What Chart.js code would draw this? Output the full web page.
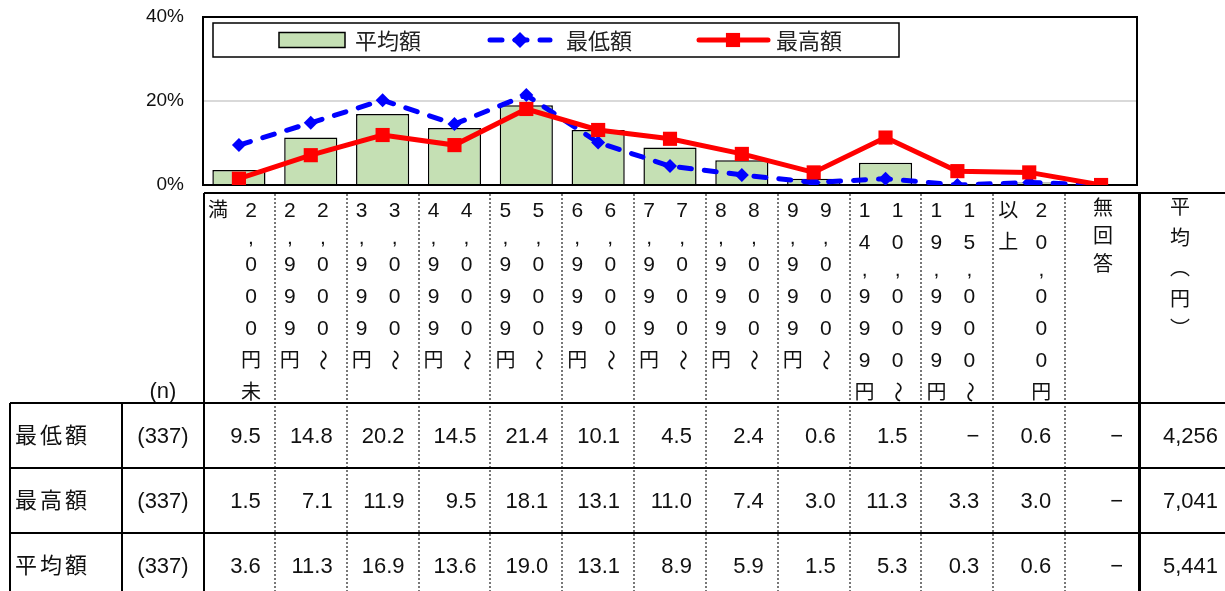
<!DOCTYPE html>
<html lang="ja">
<head>
<meta charset="utf-8">
<title>平均額・最低額・最高額の分布</title>
<script src="https://cdn.jsdelivr.net/npm/chart.js@4.4.1/dist/chart.umd.min.js"></script>
<style>
  html, body { margin: 0; padding: 0; background: #fff; }
  body {
    width: 1225px; height: 591px; overflow: hidden; position: relative;
    font-family: "Liberation Sans", "Noto Sans CJK JP", sans-serif; color: #111;
  }
  #chart { position: absolute; left: 0; top: 0; }
  #grid { position: absolute; left: 0; top: 0; width: 1225px; height: 591px; }
  .ln { position: absolute; background: #000; }
  .dot { position: absolute; width: 0; border-left: 2px dotted #777; }
  .ch { position: absolute; width: 30px; text-align: center; font-size: 21px; white-space: nowrap; }
  .ch.kanji { font-size: 20px; }
  .tilde { display: inline-block; transform: rotate(90deg); }
  .cell { position: absolute; font-size: 22px; line-height: 64px; height: 64px; white-space: nowrap; }
  .cell.jp { letter-spacing: 3px; }
</style>
</head>
<body>
<canvas id="chart" width="1225" height="200"></canvas>
<div id="grid"></div>
<script>
// price bands (horizontal axis)
const categories = [
  '2,000円未満', '2,000～2,999円', '3,000～3,999円', '4,000～4,999円',
  '5,000～5,999円', '6,000～6,999円', '7,000～7,999円', '8,000～8,999円',
  '9,000～9,999円', '10,000～14,999円', '15,000～19,999円', '20,000円以上', '無回答'
];
// share of respondents in %, null = "−"
const minShare = [9.5, 14.8, 20.2, 14.5, 21.4, 10.1, 4.5, 2.4, 0.6, 1.5, null, 0.6, null];
const maxShare = [1.5, 7.1, 11.9, 9.5, 18.1, 13.1, 11.0, 7.4, 3.0, 11.3, 3.3, 3.0, null];
const avgShare = [3.6, 11.3, 16.9, 13.6, 19.0, 13.1, 8.9, 5.9, 1.5, 5.3, 0.3, 0.6, null];
const sampleSize = 337;
const meanYen = { min: 4256, max: 7041, avg: 5441 };
const yTicks = [0, 20, 40];

const toPlot = v => (v == null ? 0 : v);
const fmtShare = v => (v == null ? '\u2212' : v.toFixed(1));

// frame around the plot area, drawn under the series
const plotFrame = {
  id: 'plotFrame',
  beforeDatasetsDraw(chart) {
    const { ctx, chartArea: a } = chart;
    ctx.save();
    ctx.strokeStyle = '#000';
    ctx.lineWidth = 2;
    ctx.strokeRect(a.left, a.top, a.right - a.left, a.bottom - a.top);
    ctx.restore();
  }
};

// boxed legend inside the plot: bar swatch, dashed line + diamond, solid line + square
const boxLegend = {
  id: 'boxLegend',
  afterDatasetsDraw(chart) {
    const { ctx, chartArea: a } = chart;
    const [bar, low, high] = chart.data.datasets;
    const x0 = a.left + 10, y0 = a.top + 6, w = 686, h = 34, cy = y0 + h / 2;
    ctx.save();
    ctx.fillStyle = '#fff';
    ctx.fillRect(x0, y0, w, h);
    ctx.strokeStyle = '#000';
    ctx.lineWidth = 1.5;
    ctx.strokeRect(x0, y0, w, h);

    ctx.font = '22px "Noto Sans CJK JP", sans-serif';
    ctx.textBaseline = 'middle';

    // 平均額
    ctx.fillStyle = bar.backgroundColor;
    ctx.fillRect(x0 + 66, cy - 7.5, 66, 15);
    ctx.strokeStyle = '#000';
    ctx.lineWidth = 1.5;
    ctx.strokeRect(x0 + 66, cy - 7.5, 66, 15);
    ctx.fillStyle = '#222';
    ctx.fillText(bar.label, x0 + 142, cy + 1);

    // 最低額
    ctx.strokeStyle = low.borderColor;
    ctx.lineWidth = low.borderWidth;
    ctx.lineCap = 'round';
    ctx.setLineDash(low.borderDash);
    ctx.beginPath();
    ctx.moveTo(x0 + 277, cy);
    ctx.lineTo(x0 + 337, cy);
    ctx.stroke();
    ctx.setLineDash([]);
    ctx.fillStyle = low.backgroundColor;
    Chart.helpers.drawPoint(ctx, { pointStyle: 'rectRot', radius: 8, rotation: 0, borderWidth: 0 }, x0 + 307, cy);
    ctx.fillStyle = '#222';
    ctx.fillText(low.label, x0 + 353, cy + 1);

    // 最高額
    ctx.strokeStyle = high.borderColor;
    ctx.lineWidth = high.borderWidth;
    ctx.lineCap = 'round';
    ctx.beginPath();
    ctx.moveTo(x0 + 486, cy);
    ctx.lineTo(x0 + 555, cy);
    ctx.stroke();
    ctx.fillStyle = high.backgroundColor;
    Chart.helpers.drawPoint(ctx, { pointStyle: 'rect', radius: 10, rotation: 0, borderWidth: 0 }, x0 + 520, cy);
    ctx.fillStyle = '#222';
    ctx.fillText(high.label, x0 + 563, cy + 1);
    ctx.restore();
  }
};

const chart = new Chart(document.getElementById('chart'), {
  type: 'bar',
  data: {
    labels: categories,
    datasets: [
      {
        type: 'bar', label: '平均額', data: avgShare.map(toPlot),
        backgroundColor: '#c5e0b4', borderColor: '#000', borderWidth: 1.5,
        barPercentage: 0.74, categoryPercentage: 1, order: 2
      },
      {
        type: 'line', label: '最低額', data: minShare.map(toPlot),
        borderColor: '#0000ff', backgroundColor: '#0000ff', borderWidth: 5,
        borderDash: [12, 13], borderCapStyle: 'round', tension: 0,
        pointStyle: 'rectRot', pointRadius: 7, pointBorderWidth: 0, order: 1
      },
      {
        type: 'line', label: '最高額', data: maxShare.map(toPlot),
        borderColor: '#ff0000', backgroundColor: '#ff0000', borderWidth: 5,
        borderCapStyle: 'round', tension: 0,
        pointStyle: 'rect', pointRadius: 10, pointBorderWidth: 0, order: 0
      }
    ]
  },
  options: {
    responsive: false,
    animation: false,
    layout: { padding: { top: 17, right: 88, bottom: 15, left: 0 } },
    plugins: { legend: { display: false }, tooltip: { enabled: false } },
    scales: {
      x: { display: false, offset: true, ticks: { display: false }, grid: { display: false } },
      y: {
        min: 0, max: 40,
        afterBuildTicks: s => { s.ticks = yTicks.map(v => ({ value: v })); },
        afterFit: s => { s.width = 203; s.paddingTop = 0; s.paddingBottom = 0; },
        ticks: {
          callback: v => v + '%',
          font: { family: '"Liberation Sans", sans-serif', size: 19 },
          color: '#111',
          padding: 19
        },
        grid: {
          drawTicks: false,
          lineWidth: 2,
          color: c => (c.tick && c.tick.value === 20 ? '#d9d9d9' : 'rgba(0,0,0,0)')
        },
        border: { display: false }
      }
    }
  },
  plugins: [plotFrame, boxLegend]
});

// ---- category header and data table under the plot ----
const grid = document.getElementById('grid');
const xs = chart.scales.x;
const colW = (chart.chartArea.right - chart.chartArea.left) / categories.length;
const colLeft = i => xs.getPixelForValue(i) - colW / 2;

function el(cls, style, html) {
  const d = document.createElement('div');
  d.className = cls;
  Object.assign(d.style, style);
  if (html != null) d.innerHTML = html;
  grid.appendChild(d);
  return d;
}
const hLine = (x1, x2, y, t = 2) => el('ln', { left: x1 + 'px', top: (y - t / 2) + 'px', width: (x2 - x1) + 'px', height: t + 'px' });
const vLine = (x, y1, y2, t = 2) => el('ln', { left: (x - t / 2) + 'px', top: y1 + 'px', width: t + 'px', height: (y2 - y1) + 'px' });
const dLine = (x, y1, y2) => el('dot', { left: (x - 1) + 'px', top: y1 + 'px', height: (y2 - y1) + 'px' });

const headTop = 193, headBottom = 403, rowH = 65, tableBottom = 600;
const tableLeft = 10, nameRight = 122, plotL = 204, meanL = 1139;

// split a label into vertical columns (right column first)
function splitColumns(label) {
  const t = label.indexOf('～');
  if (t >= 0) return [label.slice(0, t + 1), label.slice(t + 1)];
  if (label.length > 7) return [label.slice(0, 7), label.slice(7)];
  return [label];
}

const vertical = { '（': '︵', '）': '︶' };
function stackText(str, cx, top, step) {
  let y = top;
  for (const c of str) {
    const h = c === ',' ? 22 : step;
    const isKanji = /[^\x00-\x7f～]/.test(c);
    let inner = vertical[c] || c;
    if (c === '～') inner = '<span class="tilde">～</span>';
    el('ch' + (isKanji ? ' kanji' : ''), {
      left: (cx - 15) + 'px', top: y + 'px', height: h + 'px', lineHeight: h + 'px'
    }, inner);
    y += h;
  }
}

categories.forEach((label, i) => {
  const left = colLeft(i);
  const cols = splitColumns(label);
  if (cols.length === 1) {
    stackText(cols[0], left + colW / 2 + 2, headTop + 1, 28);
  } else {
    stackText(cols[0], left + 48, headTop + 1, 32);
    stackText(cols[1], left + 15, headTop + 1, 32);
  }
});
stackText('平均（円）', 1180, headTop - 1, 30.5);
el('cell', { left: nameRight + 'px', width: (plotL - nameRight) + 'px', top: (391 - 32) + 'px', textAlign: 'center' }, '(n)');

// grid lines
hLine(plotL, 1225, headTop);
vLine(plotL, headTop, tableBottom);
vLine(meanL, headTop, tableBottom, 3);
for (let i = 1; i < categories.length; i++) dLine(colLeft(i), headTop + 1, tableBottom);
for (let r = 0; r < 3; r++) hLine(tableLeft, 1225, headBottom + r * rowH);
vLine(tableLeft, headBottom, tableBottom);
vLine(nameRight, headBottom, tableBottom);

const rows = [
  { name: '最低額', shares: minShare, mean: meanYen.min },
  { name: '最高額', shares: maxShare, mean: meanYen.max },
  { name: '平均額', shares: avgShare, mean: meanYen.avg }
];
rows.forEach((row, r) => {
  const top = headBottom + r * rowH + 1;
  el('cell jp', { left: '15px', top: top + 'px' }, row.name);
  el('cell', { left: nameRight + 'px', width: (plotL - nameRight) + 'px', top: top + 'px', textAlign: 'center' }, '(' + sampleSize + ')');
  row.shares.forEach((v, i) => {
    const right = colLeft(i) + colW - 14;
    el('cell', { right: (1225 - right) + 'px', top: top + 'px', textAlign: 'right' }, fmtShare(v));
  });
  el('cell', { right: '7px', top: top + 'px', textAlign: 'right' }, row.mean.toLocaleString('en-US'));
});
</script>
</body>
</html>
